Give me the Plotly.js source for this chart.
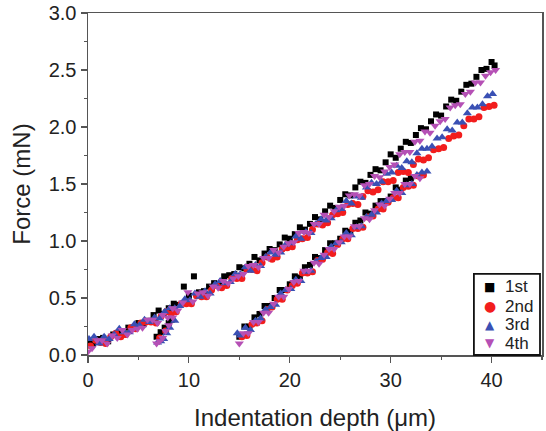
<!DOCTYPE html>
<html>
<head>
<meta charset="utf-8">
<script src="https://cdn.plot.ly/plotly-3.0.1.min.js"></script>
<style>html,body{margin:0;padding:0;background:#fff;}#chart{width:546px;height:431px;}</style>
</head>
<body>
<div id="chart"></div>
<script>
// ---- data ----
const seriesNames = ["1st", "2nd", "3rd", "4th"];

// 1st run (black squares): main loading branch, second branch from 15 µm, short branch near 7 µm
const x1 = [0,0.5,1,1.5,2,2.5,3,3.5,4,4.5,5,5.5,6,6.5,7,7.5,8,8.5,9,9.5,10,10.5,11,11.5,12,12.5,13,13.5,14,14.5,15,15.5,16,16.5,17,17.5,18,18.5,19,19.5,20,20.5,21,21.5,22,22.5,23,23.5,24,24.5,25,25.5,26,26.5,27,27.5,28,28.5,29,29.5,30,30.5,31,31.5,32,32.5,33,33.5,34,34.5,35,35.5,36,36.5,37,37.5,38,38.5,39,39.5,40,40.3,
  15,15.5,16,16.5,17,17.5,18,18.5,19,19.5,20,20.5,21,21.5,22,22.5,23,23.5,24,24.5,25,25.5,26,26.5,27,27.5,28,28.5,29,29.5,30,30.5,31,31.5,32,
  6.8,7.2,7.6,8.0,8.3];
const y1 = [0.11,0.10,0.14,0.15,0.12,0.18,0.19,0.18,0.24,0.23,0.28,0.27,0.30,0.35,0.39,0.36,0.41,0.45,0.44,0.60,0.52,0.69,0.55,0.56,0.60,0.63,0.62,0.69,0.70,0.71,0.77,0.76,0.80,0.86,0.83,0.89,0.93,0.92,0.97,1.03,1.02,1.06,1.12,1.10,1.15,1.21,1.19,1.26,1.31,1.29,1.36,1.41,1.40,1.47,1.52,1.51,1.58,1.63,1.62,1.69,1.76,1.73,1.81,1.87,1.86,1.93,1.99,1.98,2.05,2.11,2.10,2.18,2.24,2.23,2.31,2.37,2.38,2.44,2.50,2.51,2.57,2.54,
  0.16,0.25,0.25,0.33,0.36,0.43,0.43,0.50,0.57,0.57,0.62,0.69,0.68,0.77,0.79,0.86,0.85,0.92,0.98,0.98,1.02,1.09,1.08,1.16,1.18,1.25,1.24,1.31,1.35,1.35,1.39,1.47,1.45,1.53,1.55,
  0.16,0.20,0.24,0.28,0.31];

// 2nd run (red circles)
const x2 = [0.25,0.75,1.25,1.75,2.25,2.75,3.25,3.75,4.25,4.75,5.25,5.75,6.25,6.75,7.25,7.75,8.25,8.75,9.25,9.75,10.25,10.75,11.25,11.75,12.25,12.75,13.25,13.75,14.25,14.75,15.25,15.75,16.25,16.75,17.25,17.75,18.25,18.75,19.25,19.75,20.25,20.75,21.25,21.75,22.25,22.75,23.25,23.75,24.25,24.75,25.25,25.75,26.25,26.75,27.25,27.75,28.25,28.75,29.25,29.75,30.25,30.75,31.25,31.75,32.25,32.75,33.25,33.75,34.25,34.75,35.25,35.75,36.25,36.75,37.25,37.75,38.25,38.75,39.25,39.75,40.25,
  15.25,15.75,16.25,16.75,17.25,17.75,18.25,18.75,19.25,19.75,20.25,20.75,21.25,21.75,22.25,22.75,23.25,23.75,24.25,24.75,25.25,25.75,26.25,26.75,27.25,27.75,28.25,28.75,29.25,29.75,30.25,30.75,31.25,31.75,32.25,32.75,33.25,
  7.1,7.7];
const y2 = [0.08,0.13,0.11,0.10,0.16,0.19,0.16,0.18,0.24,0.23,0.28,0.29,0.29,0.28,0.34,0.38,0.36,0.38,0.45,0.45,0.45,0.52,0.51,0.51,0.57,0.61,0.59,0.61,0.67,0.67,0.67,0.75,0.75,0.74,0.81,0.86,0.84,0.86,0.93,0.94,0.95,1.01,1.02,1.03,1.10,1.15,1.14,1.16,1.23,1.24,1.25,1.32,1.33,1.32,1.39,1.44,1.43,1.45,1.52,1.52,1.53,1.60,1.61,1.60,1.67,1.72,1.71,1.73,1.80,1.81,1.82,1.90,1.92,1.93,2.01,2.07,2.07,2.09,2.17,2.18,2.19,
  0.16,0.17,0.27,0.28,0.30,0.40,0.42,0.49,0.49,0.57,0.61,0.63,0.72,0.72,0.73,0.83,0.84,0.90,0.89,0.97,1.02,1.02,1.11,1.11,1.12,1.21,1.22,1.28,1.28,1.34,1.38,1.38,1.47,1.48,1.49,1.57,1.58,
  0.15,0.21];

// 3rd run (blue up-triangles)
const x3 = [0.1,0.6,1.1,1.6,2.1,2.6,3.1,3.6,4.1,4.6,5.1,5.6,6.1,6.6,7.1,7.6,8.1,8.6,9.1,9.6,10.1,10.6,11.1,11.6,12.1,12.6,13.1,13.6,14.1,14.6,15.1,15.6,16.1,16.6,17.1,17.6,18.1,18.6,19.1,19.6,20.1,20.6,21.1,21.6,22.1,22.6,23.1,23.6,24.1,24.6,25.1,25.6,26.1,26.6,27.1,27.6,28.1,28.6,29.1,29.6,30.1,30.6,31.1,31.6,32.1,32.6,33.1,33.6,34.1,34.6,35.1,35.6,36.1,36.6,37.1,37.6,38.1,38.6,39.1,39.6,40.1,
  14.8,15.1,15.6,16.1,16.6,17.1,17.6,18.1,18.6,19.1,19.6,20.1,20.6,21.1,21.6,22.1,22.6,23.1,23.6,24.1,24.6,25.1,25.6,26.1,26.6,27.1,27.6,28.1,28.6,29.1,29.6,30.1,30.6,31.1,31.6,32.1,32.6,33.1,33.6,
  6.9,7.2,7.5,7.8,8.1,8.6];
const y3 = [0.14,0.16,0.10,0.16,0.14,0.18,0.23,0.20,0.20,0.27,0.26,0.31,0.29,0.33,0.32,0.38,0.41,0.41,0.43,0.49,0.48,0.54,0.51,0.56,0.54,0.62,0.65,0.63,0.64,0.71,0.71,0.77,0.74,0.79,0.78,0.86,0.90,0.88,0.90,0.97,0.98,1.04,1.02,1.08,1.07,1.15,1.19,1.18,1.20,1.27,1.28,1.35,1.33,1.39,1.38,1.47,1.51,1.50,1.52,1.59,1.60,1.66,1.64,1.70,1.69,1.77,1.81,1.81,1.83,1.90,1.91,1.98,1.97,2.04,2.04,2.12,2.17,2.17,2.20,2.27,2.29,
  0.19,0.17,0.24,0.22,0.30,0.32,0.40,0.42,0.44,0.54,0.57,0.58,0.66,0.65,0.73,0.74,0.82,0.85,0.86,0.95,0.98,0.99,1.07,1.05,1.12,1.13,1.21,1.23,1.25,1.33,1.35,1.36,1.44,1.42,1.49,1.50,1.58,1.60,1.61,
  0.11,0.12,0.14,0.19,0.24,0.30];

// 4th run (magenta down-triangles)
const x4 = [0,0.4,0.9,1.4,1.9,2.4,2.9,3.4,3.9,4.4,4.9,5.4,5.9,6.4,6.9,7.4,7.9,8.4,8.9,9.4,9.9,10.4,10.9,11.4,11.9,12.4,12.9,13.4,13.9,14.4,14.9,15.4,15.9,16.4,16.9,17.4,17.9,18.4,18.9,19.4,19.9,20.4,20.9,21.4,21.9,22.4,22.9,23.4,23.9,24.4,24.9,25.4,25.9,26.4,26.9,27.4,27.9,28.4,28.9,29.4,29.9,30.4,30.9,31.4,31.9,32.4,32.9,33.4,33.9,34.4,34.9,35.4,35.9,36.4,36.9,37.4,37.9,38.4,38.9,39.4,39.9,40.4,
  15.0,15.4,15.9,16.4,16.9,17.4,17.9,18.4,18.9,19.4,19.9,20.4,20.9,21.4,21.9,22.4,22.9,23.4,23.9,24.4,24.9,25.4,25.9,26.4,26.9,27.4,27.9,28.4,28.9,29.4,29.9,30.4,30.9,31.4,31.9,32.4,32.9,
  6.8,7.1,7.4,7.7,8.0,8.4];
const y4 = [0.03,0.06,0.13,0.13,0.10,0.17,0.15,0.22,0.18,0.22,0.23,0.24,0.31,0.31,0.28,0.35,0.33,0.41,0.39,0.46,0.55,0.47,0.54,0.55,0.52,0.60,0.59,0.65,0.63,0.67,0.69,0.71,0.78,0.79,0.77,0.85,0.85,0.92,0.90,0.95,0.98,0.99,1.07,1.08,1.07,1.15,1.15,1.23,1.21,1.26,1.30,1.31,1.40,1.41,1.40,1.49,1.50,1.57,1.56,1.61,1.65,1.67,1.76,1.78,1.78,1.87,1.88,1.96,1.95,2.01,2.05,2.07,2.17,2.19,2.20,2.29,2.31,2.39,2.39,2.45,2.48,2.50,
  0.10,0.19,0.19,0.29,0.29,0.37,0.37,0.45,0.51,0.51,0.58,0.64,0.65,0.74,0.74,0.81,0.80,0.88,0.93,0.93,0.99,1.04,1.04,1.13,1.13,1.20,1.19,1.27,1.32,1.31,1.37,1.42,1.42,1.50,1.50,1.57,1.55,
  0.10,0.12,0.15,0.21,0.26,0.33];

const xTickVals = [0, 10, 20, 30, 40];
const yTickVals = [0.0, 0.5, 1.0, 1.5, 2.0, 2.5, 3.0];
const yTickText = ["0.0", "0.5", "1.0", "1.5", "2.0", "2.5", "3.0"];

// ---- styles ----
const colors = ["#000000", "#f21d1d", "#3a50b4", "#b550b5"];
const symbols = ["square", "circle", "triangle-up", "triangle-down"];
const sizes = [6, 7, 8, 8];
const legendGlyphs = ["■", "●", "▲", "▼"];
const legendGlyphSize = [12, 14, 12, 12];
const xs = [x1, x2, x3, x4];
const ys = [y1, y2, y3, y4];

const traces = seriesNames.map((n, i) => ({
  type: "scatter", mode: "markers", name: n,
  x: xs[i], y: ys[i], showlegend: false,
  marker: { symbol: symbols[i], color: colors[i], size: sizes[i], line: { width: 0 } }
}));

const FONT = "Liberation Sans, Arial, sans-serif";

// legend drawn as text + box in paper coordinates
const annotations = [];
const rowY = [0.199, 0.143, 0.088, 0.035];
seriesNames.forEach((n, i) => {
  annotations.push({ xref: "paper", yref: "paper", x: 0.885, y: rowY[i], xanchor: "center", yanchor: "middle",
    text: legendGlyphs[i], showarrow: false, font: { family: "DejaVu Sans", size: legendGlyphSize[i], color: colors[i] } });
  annotations.push({ xref: "paper", yref: "paper", x: 0.915, y: rowY[i], xanchor: "left", yanchor: "middle",
    text: n, showarrow: false, font: { family: FONT, size: 17, color: "#222" } });
});

const layout = {
  width: 546, height: 431,
  margin: { l: 88, r: 4, t: 13, b: 76 },
  paper_bgcolor: "#fff", plot_bgcolor: "#fff",
  font: { family: FONT, color: "#222", size: 20 },
  showlegend: false,
  annotations: annotations,
  shapes: [{ type: "rect", xref: "paper", yref: "paper", x0: 0.850, x1: 0.9956, y0: 0.0, y1: 0.237,
    line: { color: "#111", width: 1.8 }, fillcolor: "rgba(255,255,255,1)", layer: "above" }],
  xaxis: {
    range: [0, 45], tickvals: xTickVals, ticks: "outside", ticklen: 6, tickwidth: 1.2,
    tickcolor: "#555", showline: true, linecolor: "#555", linewidth: 1.5, mirror: true,
    showgrid: false, zeroline: false,
    minor: { dtick: 5, tick0: 0, ticks: "outside", ticklen: 3, tickcolor: "#555", showgrid: false },
    tickfont: { family: FONT, size: 20, color: "#222" },
    title: { text: "Indentation depth (μm)", font: { family: FONT, size: 24, color: "#222" } }
  },
  yaxis: {
    range: [0, 3.0], tickvals: yTickVals, ticktext: yTickText, ticks: "outside", ticklen: 6, tickwidth: 1.2,
    tickcolor: "#555", showline: true, linecolor: "#555", linewidth: 1.5, mirror: true,
    showgrid: false, zeroline: false,
    minor: { dtick: 0.25, tick0: 0, ticks: "outside", ticklen: 3, tickcolor: "#555", showgrid: false },
    tickfont: { family: FONT, size: 20, color: "#222" },
    title: { text: "Force (mN)", font: { family: FONT, size: 24, color: "#222" } }
  }
};

Plotly.newPlot("chart", traces, layout, { displayModeBar: false, staticPlot: true });
</script>
</body>
</html>
